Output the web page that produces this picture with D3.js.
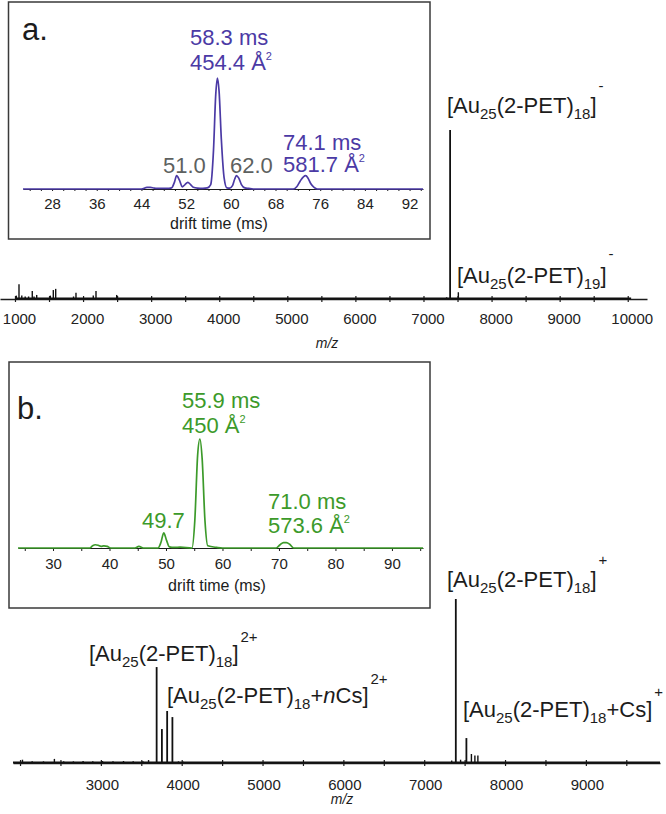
<!doctype html>
<html lang="en">
<head>
<meta charset="utf-8">
<title>Au25(2-PET)18 mass spectra</title>
<script src="https://cdn.jsdelivr.net/npm/d3@7"></script>
<style>
    html, body { margin: 0; background: #fff; }
    svg { display: block; font-family: "Liberation Sans", Arial, sans-serif; }
    .tick text { fill: #222; }
</style>
</head>
<body>
<svg id="chart" width="666" height="814"></svg>
<script>
// panel a: negative mode spectrum (m/z, relative intensity)
const mzNeg  = [1020, 1059, 1100, 1150, 1200, 1254, 1280, 1319, 1520, 1563, 1598, 1860, 1896, 2150, 2190, 2494, 7340, 7391, 7512];
const intNeg = [2, 8.7, 2, 1.5, 1.5, 4.7, 1.5, 2.4, 2, 5.3, 6, 1.5, 3.7, 2, 4.7, 2.4, 1, 100, 4];
const negRange = [1000, 10050];

// panel b: positive mode spectrum
const mzPos  = [2030, 2150, 2290, 2425, 2540, 2660, 2780, 2900, 3020, 3150, 3280, 3400, 3520, 3590, 3690, 3755, 3820, 3885, 3960, 4020, 7340, 7391, 7450, 7522, 7584, 7627, 7664];
const intPos = [2, 1, 1, 2.5, 1, 1, 1.2, 1, 1.2, 1, 1.2, 1, 1, 1.8, 58.5, 20.7, 31.7, 28, 1, 0.8, 1.5, 100, 2, 15.2, 5.5, 4.5, 4.5];
const posRange = [1913, 9917];

// inset a: drift time (ms) vs intensity
const dtA  = [22.8, 44, 45, 45.6, 46.3, 47, 48.5, 49.4, 49.9, 50.3, 50.8, 51.3, 51.8, 52.3, 52.8, 53.3, 54, 55, 55.8, 56.4, 56.9, 57.3, 57.6, 57.9, 58.3, 58.8, 59.3, 59.8, 60.3, 60.7, 61.0, 61.4, 61.9, 62.5, 63.2, 64, 71.2, 71.8, 72.4, 73.0, 73.4, 73.8, 74.3, 74.9, 75.5, 94.4];
const intA = [0, 0, 1.5, 1.5, 0.8, 0.6, 0.5, 1, 6, 12, 8, 2, 4, 6, 4, 1.5, 0.8, 0.6, 1, 4, 35, 85, 100, 88, 45, 10, 1, 0.8, 3, 9, 12, 10, 4, 1, 0.5, 0, 0, 2, 7, 11, 12, 10, 5, 1.5, 0, 0];

// inset b
const dtB  = [23.8, 36.5, 37.0, 37.5, 38.0, 38.5, 39.0, 39.6, 40.2, 44.5, 45.2, 46, 48.6, 49.1, 49.6, 50.1, 50.6, 51.5, 52.5, 54.6, 55.1, 55.6, 56.0, 56.4, 56.9, 57.4, 59, 60, 69.5, 70.2, 70.8, 71.3, 71.9, 72.6, 95.5];
const intB = [0, 0, 2, 3, 2.5, 1.5, 2, 1.5, 0, 0, 1.5, 0, 0, 5, 14, 7, 1, 0.5, 0.8, 0, 25, 85, 100, 82, 25, 2, 0.5, 0, 0, 3, 5, 5, 3.5, 0, 0];

const negTicks = d3.range(1000, 10001, 500);
const negLabels = d3.range(1000, 10001, 1000);
const posTicks = d3.range(2000, 9501, 500);
const posLabels = d3.range(3000, 9001, 1000);
const dtTicksA = d3.range(24, 95, 2);
const dtLabelsA = d3.range(28, 93, 8);
const dtTicksB = d3.range(25, 96, 5);
const dtLabelsB = d3.range(30, 91, 10);

const purple = "#4b3aa5", green = "#3c9a2a", grey = "#5d615f", ink = "#1c1c1c";

const svg = d3.select("#chart");

// scales
const x1 = d3.scaleLinear().domain([780, 10283]).range([0, 647]);
const y1 = d3.scaleLinear().domain([0, 100]).range([299, 130]);
const x2 = d3.scaleLinear().domain(posRange).range([13, 660]);
const y2 = d3.scaleLinear().domain([0, 100]).range([763, 599]);
const xa = d3.scaleLinear().domain([22.8, 94.4]).range([23, 423]);
const ya = d3.scaleLinear().domain([0, 100]).range([189, 78]);
const xb = d3.scaleLinear().domain([23.8, 95.5]).range([18, 423]);
const yb = d3.scaleLinear().domain([0, 100]).range([548, 439]);

function spectrum(x, y, mz, inten, range, ticks, labels, labelDx, labelY) {
  const g = svg.append("g");
  const ax = g.append("g")
      .attr("transform", `translate(0,${y(0)})`)
      .call(d3.axisBottom(x).tickValues(ticks)
        .tickFormat(d => labels.includes(d) ? d : "").tickSizeOuter(0));
  ax.select(".domain").attr("stroke", ink).attr("stroke-width", 1.3);
  ax.selectAll(".tick line").attr("y1", -3).attr("y2", 3).attr("stroke", ink).attr("stroke-width", 1.2);
  ax.selectAll(".tick text").attr("font-size", 15).attr("dy", null).attr("y", labelY).attr("dx", labelDx);
  // baseline of the trace
  g.append("line")
      .attr("x1", x(range[0])).attr("x2", x(range[1]))
      .attr("y1", y(0) - 0.5).attr("y2", y(0) - 0.5)
      .attr("stroke", "#111").attr("stroke-width", 2.2);
  g.selectAll("line.peak")
    .data(mz.map((m, i) => [m, inten[i]]))
    .join("line")
      .attr("class", "peak")
      .attr("x1", d => x(d[0])).attr("x2", d => x(d[0]))
      .attr("y1", y(0)).attr("y2", d => y(d[1]))
      .attr("stroke", "#111").attr("stroke-width", d => d[1] > 10 ? 1.8 : 1.4);
}

function inset(box, x, y, dt, inten, color, ticks, labels, tickLen, labelY) {
  const g = svg.append("g");
  g.append("rect")
      .attr("x", box[0]).attr("y", box[1])
      .attr("width", box[2] - box[0]).attr("height", box[3] - box[1])
      .attr("fill", "#fff").attr("stroke", "#3a3a3a").attr("stroke-width", 1.5);
  const ax = g.append("g")
      .attr("transform", `translate(0,${y(0)})`)
      .call(d3.axisBottom(x).tickValues(ticks)
        .tickFormat(d => labels.includes(d) ? d : "").tickSize(tickLen).tickSizeOuter(0));
  ax.select(".domain").attr("stroke", ink).attr("stroke-width", 1.1);
  ax.selectAll(".tick line").attr("stroke", ink);
  ax.selectAll(".tick text").attr("font-size", 15).attr("dy", null).attr("y", labelY);
  g.append("path")
      .datum(dt.map((d, i) => [d, inten[i]]))
      .attr("fill", "none").attr("stroke", color).attr("stroke-width", 1.7)
      .attr("stroke-linejoin", "round")
      .attr("d", d3.line().x(d => x(d[0])).y(d => y(d[1])).curve(d3.curveMonotoneX));
  return g;
}

function rich(x, y, parts, size, color) {
  const t = svg.append("text").attr("x", x).attr("y", y)
      .attr("font-size", size).attr("fill", color || ink);
  let cur = 0;
  parts.forEach(p => {
    const off = p.sub ? 6 : p.sup ? (p.up || -20) : 0;
    const s = t.append("tspan")
        .attr("dy", off - cur)
        .attr("font-size", p.sub || p.sup ? Math.round(size * (p.small || 0.68)) : size)
        .text(p.t);
    if (p.sup && p.dx !== undefined) s.attr("dx", p.dx);
    else if (p.sup) s.attr("dx", 2);
    if (p.it) s.attr("font-style", "italic");
    cur = off;
  });
  return t;
}

// ---- panel a ----
spectrum(x1, y1, mzNeg, intNeg, negRange, negTicks, negLabels, 4, 24.5);
svg.append("text").attr("x", 327).attr("y", 348).attr("text-anchor", "middle")
    .attr("font-size", 14).attr("font-style", "italic").attr("fill", ink).text("m/z");

const au = [{t: "[Au"}, {t: "25", sub: true}, {t: "(2-PET)"}];
rich(447, 113, au.concat([{t: "18", sub: true}, {t: "]"}, {t: "-", sup: true, up: -22}]), 22);
rich(457, 283, au.concat([{t: "19", sub: true}, {t: "]"}, {t: "-", sup: true, up: -24}]), 22);

inset([8.5, 2, 430, 239], xa, ya, dtA, intA, purple, dtTicksA, dtLabelsA, 2, 19.5);
svg.append("text").attr("x", 219).attr("y", 229).attr("text-anchor", "middle")
    .attr("font-size", 16).attr("fill", ink).text("drift time (ms)");
svg.append("text").attr("x", 22).attr("y", 40).attr("font-size", 31).attr("fill", ink).text("a.");
const sq = {t: "2", sup: true, up: -10, dx: 0, small: 0.5};
rich(190, 45, [{t: "58.3 ms"}], 22, purple);
rich(190, 70, [{t: "454.4 Å"}, sq], 22, purple);
rich(163, 173, [{t: "51.0"}], 22, grey);
rich(230, 173, [{t: "62.0"}], 22, grey);
rich(283, 150, [{t: "74.1 ms"}], 22, purple);
rich(283, 172, [{t: "581.7 Å"}, sq], 22, purple);

// ---- panel b ----
spectrum(x2, y2, mzPos, intPos, posRange, posTicks, posLabels, 1, 26.5);
svg.append("text").attr("x", 342).attr("y", 804).attr("text-anchor", "middle")
    .attr("font-size", 14).attr("font-style", "italic").attr("fill", ink).text("m/z");

rich(447, 587, au.concat([{t: "18", sub: true}, {t: "]"}, {t: "+", sup: true, up: -22}]), 22);
rich(89, 661, au.concat([{t: "18", sub: true}, {t: "]"}, {t: "2+", sup: true, up: -19}]), 22);
rich(167, 703, au.concat([{t: "18", sub: true}, {t: "+"}, {t: "n", it: true}, {t: "Cs]"}, {t: "2+", sup: true, up: -19}]), 22);
rich(463, 717, au.concat([{t: "18", sub: true}, {t: "+Cs]"}, {t: "+", sup: true, up: -20}]), 22);

inset([9, 362, 430, 608], xb, yb, dtB, intB, green, dtTicksB, dtLabelsB, 3, 20.5);
svg.append("text").attr("x", 217).attr("y", 591).attr("text-anchor", "middle")
    .attr("font-size", 16).attr("fill", ink).text("drift time (ms)");
svg.append("text").attr("x", 17).attr("y", 419).attr("font-size", 31).attr("fill", ink).text("b.");
rich(182, 408, [{t: "55.9 ms"}], 22, green);
rich(182, 433, [{t: "450 Å"}, sq], 22, green);
rich(142, 528, [{t: "49.7"}], 22, green);
rich(268, 509, [{t: "71.0 ms"}], 22, green);
rich(268, 533, [{t: "573.6 Å"}, sq], 22, green);
</script>
</body>
</html>
